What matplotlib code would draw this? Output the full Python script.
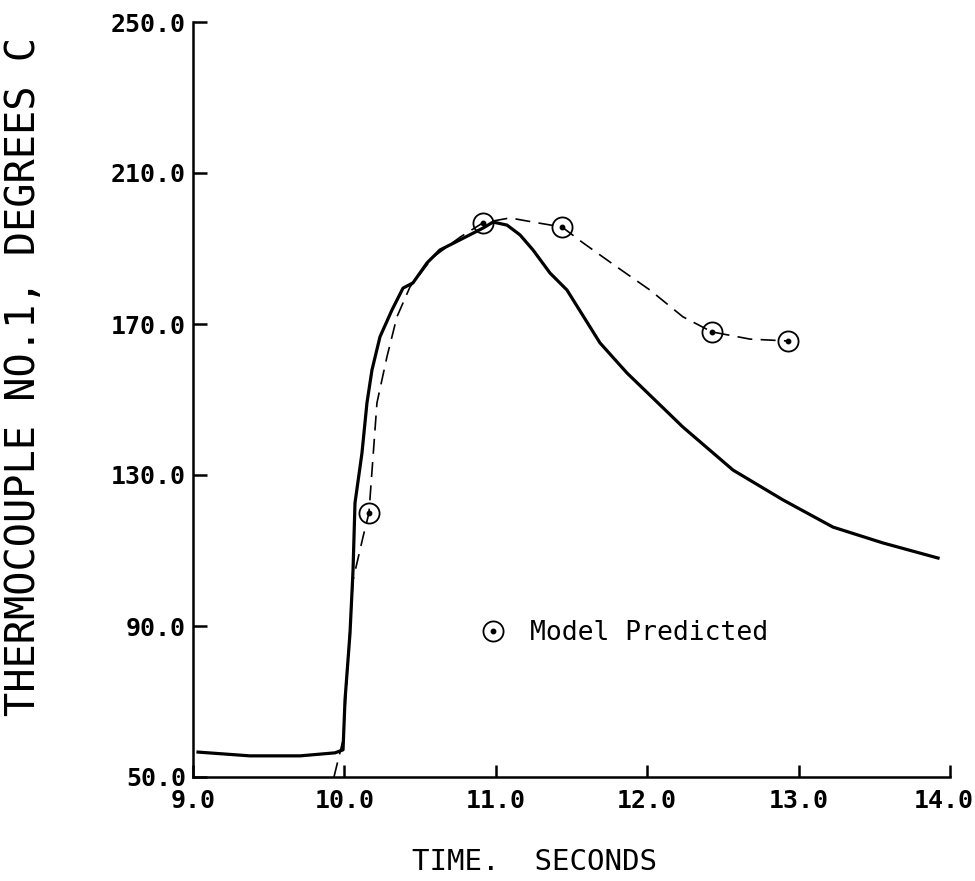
import matplotlib
matplotlib.use("Agg")
import matplotlib.pyplot as plt
from matplotlib.lines import Line2D
from matplotlib.legend_handler import HandlerTuple
from matplotlib.transforms import ScaledTranslation

# Measured thermocouple No. 1 trace
meas_time = [9.033, 9.376, 9.707, 9.938, 9.991, 10.004, 10.037, 10.057, 10.070,
             10.116, 10.149, 10.182, 10.235, 10.314, 10.387, 10.453, 10.546,
             10.631, 10.764, 10.915, 10.982, 11.074, 11.160, 11.246, 11.358,
             11.470, 11.688, 11.867, 12.236, 12.567, 12.897, 13.227, 13.557, 13.921]
meas_temp = [56.6, 55.6, 55.6, 56.4, 57.2, 70.4, 88.1, 104.8, 122.6,
             135.8, 149.1, 157.8, 166.6, 173.7, 179.5, 180.9, 186.2,
             189.6, 192.3, 195.4, 197.0, 196.2, 193.6, 189.6, 183.5,
             179.0, 165.0, 157.0, 142.7, 131.3, 123.4, 116.2, 112.0, 108.0]

# Model curve (dashed) and the model-predicted points on it
model_time = [9.931, 9.991, 10.057, 10.123, 10.162, 10.215, 10.281, 10.347,
              10.433, 10.585, 10.764, 10.915, 11.094, 11.246, 11.437, 11.576,
              11.800, 12.018, 12.236, 12.428, 12.679, 12.930]
model_temp = [50.0, 59.8, 102.2, 113.6, 119.9, 149.1, 161.3, 171.9,
              179.8, 187.7, 193.0, 196.8, 198.1, 197.0, 195.7, 191.5,
              185.1, 179.0, 171.9, 167.9, 166.0, 165.5]

pred_time = [10.162, 10.915, 11.437, 12.428, 12.930]
pred_temp = [119.9, 196.8, 195.7, 167.9, 165.5]

x_ticks = [9.0, 10.0, 11.0, 12.0, 13.0, 14.0]
y_ticks = [50.0, 90.0, 130.0, 170.0, 210.0, 250.0]

fig = plt.figure(figsize=(9.75, 8.81), dpi=100)
ax = fig.add_axes([193 / 975, 1 - 777 / 881, 757 / 975, 755 / 881])

ax.plot(meas_time, meas_temp, color="black", lw=2.3, solid_joinstyle="round")
ax.plot(model_time, model_temp, color="black", lw=1.2, dashes=(9, 5))

ring = dict(ls="none", marker="o", ms=14.5, mfc="none", mec="black", mew=1.3)
dot = dict(ls="none", marker="o", ms=3.2, color="black")
ax.plot(pred_time, pred_temp, **ring)
ax.plot(pred_time, pred_temp, **dot)

ax.set_xlim(9.0, 14.0)
ax.set_ylim(50.0, 250.0)
ax.set_xticks(x_ticks)
ax.set_yticks(y_ticks)
ax.set_xticklabels([f"{v:.1f}" for v in x_ticks])
ax.set_yticklabels([f"{v:.1f}" for v in y_ticks])

for side in ("top", "right"):
    ax.spines[side].set_visible(False)
for side in ("left", "bottom"):
    ax.spines[side].set_linewidth(1.8)

ax.tick_params(axis="x", direction="in", length=9, width=1.8, pad=9)
ax.tick_params(axis="y", direction="in", length=10, width=1.8, pad=5)
for lab in ax.get_xticklabels() + ax.get_yticklabels():
    lab.set_fontfamily("DejaVu Sans Mono")
    lab.set_fontweight("bold")
    lab.set_fontsize(18)
# keep the last time label inside the canvas
last = ax.get_xticklabels()[-1]
last.set_transform(last.get_transform() + ScaledTranslation(-6 / 100, 0, fig.dpi_scale_trans))

fig.text(535 / 975, 1 - 862 / 881, "TIME.  SECONDS", ha="center", va="center",
         family="DejaVu Sans Mono", fontsize=21)
fig.text(24 / 975, 1 - 377 / 881, "THERMOCOUPLE NO.1, DEGREES C", rotation=90,
         ha="center", va="center", family="DejaVu Sans Mono", fontsize=29)

leg = ax.legend([(Line2D([], [], **ring), Line2D([], [], **dot))],
                ["Model Predicted"], handler_map={tuple: HandlerTuple(ndivide=1)},
                loc="center left", bbox_to_anchor=(0.347, 0.191), frameon=False,
                handlelength=1.0, handletextpad=0.9,
                prop={"family": "DejaVu Sans Mono", "size": 19})

fig.savefig("out.png", dpi=100, facecolor="white")
